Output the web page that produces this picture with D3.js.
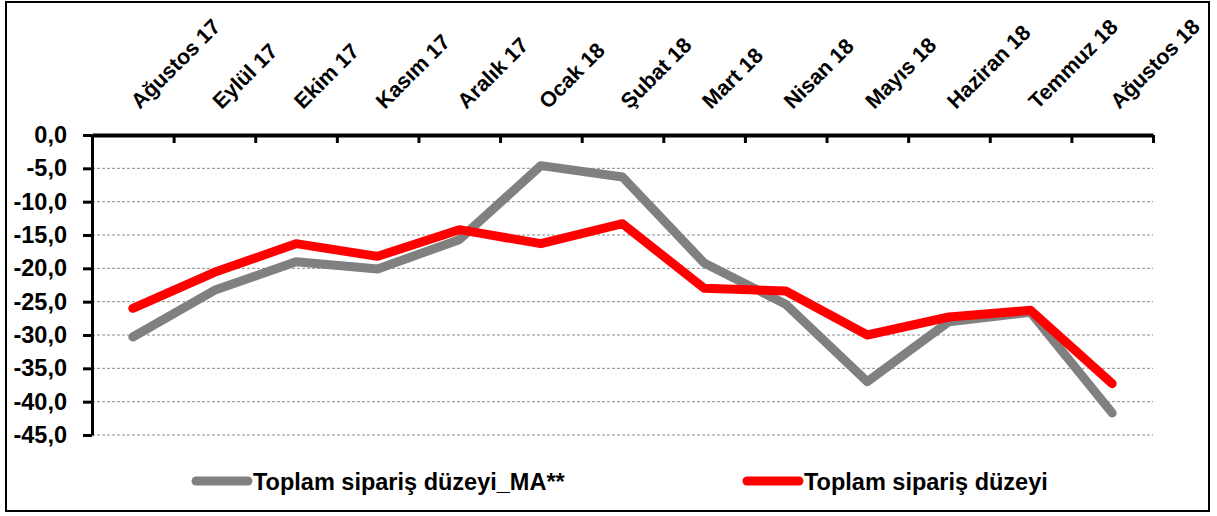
<!DOCTYPE html>
<html>
<head>
<meta charset="utf-8">
<script src="https://cdn.jsdelivr.net/npm/d3@7"></script>
<style>
  body { margin: 0; background: #fff; }
  svg { display: block; }
  text { font-family: "Liberation Sans", Arial, sans-serif; font-weight: bold; fill: #000; }
</style>
</head>
<body>
<svg id="chart" width="1217" height="516"></svg>
<script>
const months = ['Ağustos 17', 'Eylül 17', 'Ekim 17', 'Kasım 17', 'Aralık 17', 'Ocak 18',
  'Şubat 18', 'Mart 18', 'Nisan 18', 'Mayıs 18', 'Haziran 18', 'Temmuz 18', 'Ağustos 18']
const maSeries = [-30.3, -23.3, -19.0, -20.1, -15.7, -4.6, -6.3, -19.2, -25.4, -37.0, -28.0, -26.6, -41.7]
const levelSeries = [-26.0, -20.6, -16.3, -18.2, -14.2, -16.3, -13.3, -23.0, -23.4, -30.0, -27.3, -26.3, -37.3]
const yTicks = [0, -5, -10, -15, -20, -25, -30, -35, -40, -45]
const seriesNames = ['Toplam sipariş düzeyi_MA**', 'Toplam sipariş düzeyi']

const svg = d3.select('#chart')

// outer frame
svg.append('rect')
  .attr('x', 6).attr('y', 2)
  .attr('width', 1203).attr('height', 509)
  .attr('fill', 'none').attr('stroke', '#000').attr('stroke-width', 2)

const plotLeft = 92, plotRight = 1153, plotTop = 135, plotBottom = 435

const x = d3.scaleBand().domain(months).range([plotLeft, plotRight])
const xEdge = d3.scaleLinear().domain([0, months.length]).range([plotLeft, plotRight])
const y = d3.scaleLinear().domain([-45, 0]).range([plotBottom, plotTop])
const cx = d => x(d) + x.bandwidth() / 2

// dashed grid
svg.append('g')
  .selectAll('line')
  .data(yTicks.filter(d => d !== 0))
  .join('line')
  .attr('x1', plotLeft).attr('x2', plotRight)
  .attr('y1', d => y(d)).attr('y2', d => y(d))
  .attr('stroke', '#8c8c8c').attr('stroke-width', 1)
  .attr('stroke-dasharray', '3,2')

// y axis
const yAxis = svg.append('g')
  .attr('transform', `translate(${plotLeft},0)`)
  .call(d3.axisLeft(y).tickValues(yTicks)
    .tickFormat(d => d.toFixed(1).replace('.', ','))
    .tickSizeInner(9).tickSizeOuter(0).tickPadding(16))
yAxis.select('.domain').attr('stroke-width', 3)
yAxis.selectAll('.tick line').attr('stroke-width', 3)
yAxis.selectAll('text')
  .attr('font-family', '"Liberation Sans", Arial, sans-serif')
  .attr('font-size', 23.5).attr('font-weight', 'bold')

// x axis on top, ticks at the category edges pointing down
const xAxis = svg.append('g')
  .attr('transform', `translate(0,${plotTop})`)
  .call(d3.axisTop(xEdge).ticks(months.length).tickFormat('')
    .tickSizeInner(-8).tickSizeOuter(0))
xAxis.select('.domain').attr('stroke-width', 4)
xAxis.selectAll('.tick line').attr('stroke-width', 3)

svg.append('g')
  .selectAll('text')
  .data(months)
  .join('text')
  .attr('transform', d => `translate(${cx(d) + 7},${plotTop - 25}) rotate(-45)`)
  .attr('font-size', 21.5)
  .text(d => d)

// lines
const line = d3.line().x((d, i) => cx(months[i])).y(d => y(d))

svg.append('path')
  .datum(maSeries)
  .attr('d', line)
  .attr('fill', 'none').attr('stroke', '#808080').attr('stroke-width', 9)
  .attr('stroke-linejoin', 'round').attr('stroke-linecap', 'round')

svg.append('path')
  .datum(levelSeries)
  .attr('d', line)
  .attr('fill', 'none').attr('stroke', '#ff0000').attr('stroke-width', 9)
  .attr('stroke-linejoin', 'round').attr('stroke-linecap', 'round')

// legend
const legend = svg.append('g')
  .selectAll('g')
  .data(seriesNames)
  .join('g')
  .attr('transform', (d, i) => `translate(${i === 0 ? 196 : 747},481)`)

legend.append('line')
  .attr('x1', 0).attr('x2', 52)
  .attr('stroke', (d, i) => i === 0 ? '#808080' : '#ff0000')
  .attr('stroke-width', 9).attr('stroke-linecap', 'round')

legend.append('text')
  .attr('x', 57).attr('y', 8.5)
  .attr('font-size', 23.5)
  .text(d => d)
</script>
</body>
</html>
